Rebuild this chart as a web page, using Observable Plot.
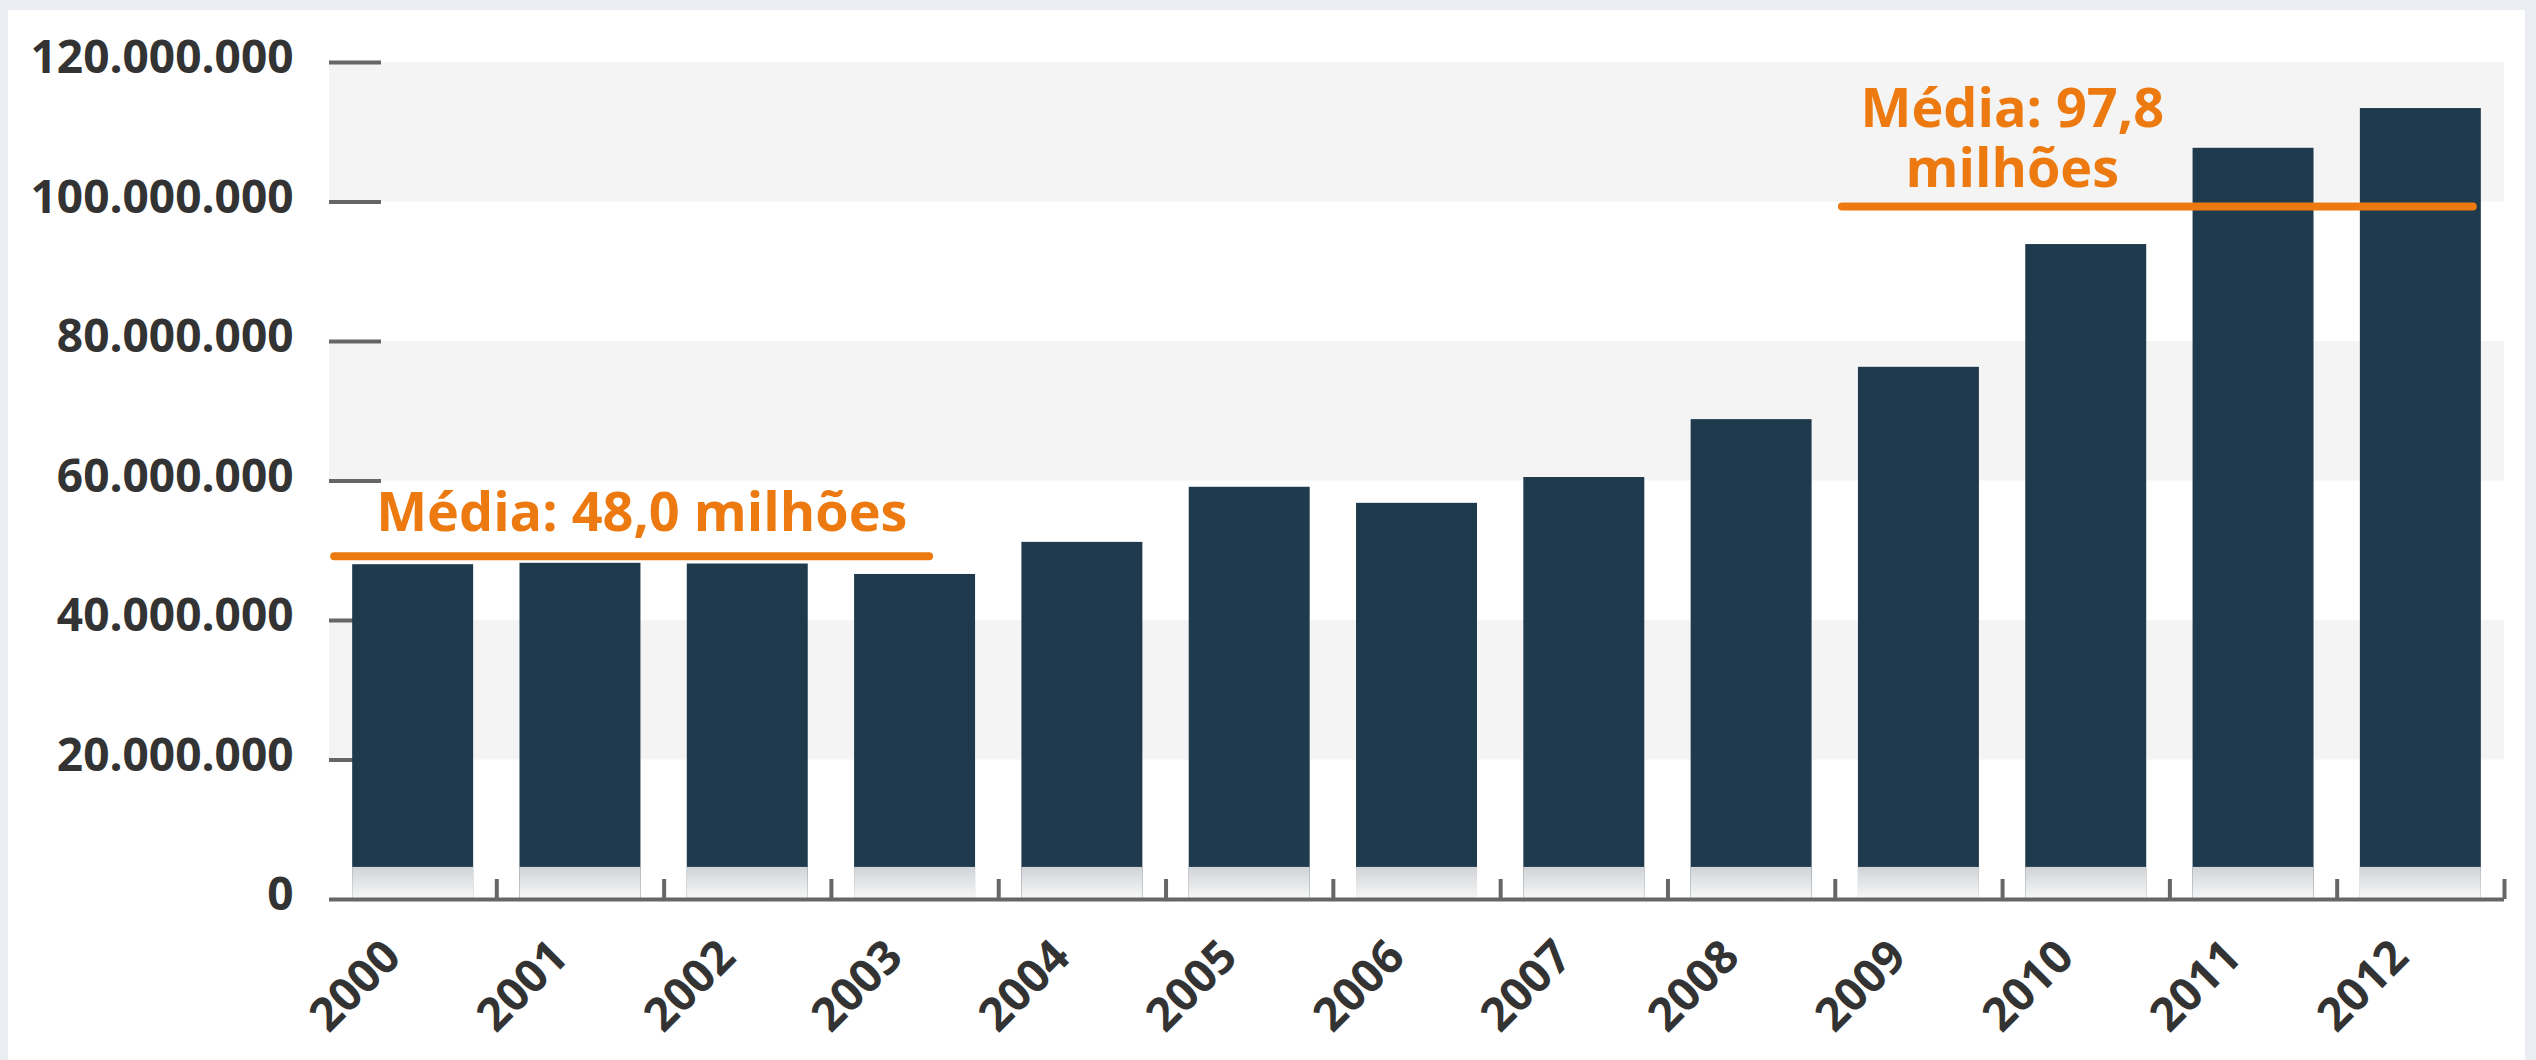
<!DOCTYPE html>
<html>
<head>
<meta charset="utf-8">
<script src="https://cdn.jsdelivr.net/npm/d3@7"></script>
<script src="https://cdn.jsdelivr.net/npm/@observablehq/plot@0.6"></script>
<style>
html, body { margin: 0; padding: 0; width: 2536px; height: 1060px; overflow: hidden; background: #eaeef2; }
#chart { position: absolute; left: 8px; top: 10px; width: 2517px; height: 1050px; background: #ffffff; }
#chart svg { display: block; }
</style>
</head>
<body>
<div id="chart"></div>
<script>
// ---- data ----
const years = ["2000","2001","2002","2003","2004","2005","2006","2007","2008","2009","2010","2011","2012"];
const values = [48.0e6, 48.2e6, 48.1e6, 46.6e6, 51.2e6, 59.1e6, 56.8e6, 60.5e6, 68.8e6, 76.3e6, 93.9e6, 107.7e6, 113.4e6];
const yTicks = [0, 20e6, 40e6, 60e6, 80e6, 100e6, 120e6];
const shadedBands = [[20e6, 40e6], [60e6, 80e6], [100e6, 120e6]];
const avgLabels = ["Média: 48,0 milhões", "Média: 97,8\nmilhões"];
const avgLineLevels = [49.2e6, 99.35e6];
const avgFrom = ["2000", "2009"];
const avgTo = ["2003", "2012"];
const avgLabelAt = ["2000", "2010"];

// ---- build tables ----
const data = years.map((year, i) => ({year, value: values[i]}));
const avgs = avgLabels.map((label, i) => ({label, level: avgLineLevels[i], from: avgFrom[i], to: avgTo[i], at: avgLabelAt[i]}));

const W = 2517, H = 1050;
const mL = 321, mR = 21, mT = 52, mB = 161;
const plotW = W - mL - mR, plotH = H - mT - mB;
const step = plotW / years.length;

const ptBR = d3.formatLocale({decimal: ",", thousands: ".", grouping: [3], currency: ["", ""]});
const fmt = ptBR.format(",d");

const ORANGE = "#ec7a10";
const NAVY = "#203a4d";
const GREY = "#666666";
const TEXT = "#333333";
const FONT = "'Open Sans', sans-serif";

const chart = Plot.plot({
  width: W,
  height: H,
  marginLeft: mL,
  marginRight: mR,
  marginTop: mT,
  marginBottom: mB,
  style: {fontFamily: FONT, background: "#ffffff", overflow: "visible"},
  x: {type: "band", domain: years, paddingInner: 0.277, paddingOuter: 0.1385, round: false, axis: null},
  y: {domain: [0, 120e6], axis: null},
  marks: [
    Plot.rect(shadedBands, {y1: d => d[0], y2: d => d[1], fill: "#f4f4f4"}),
    Plot.ruleY(yTicks.filter(d => d > 0), {y: d => d, stroke: GREY, strokeWidth: 4, insetRight: plotW - 52}),
    Plot.barY(data, {x: "year", y: "value", fill: NAVY}),
    Plot.barY(data, {x: "year", y1: 0, y2: 4.6e6, fill: "url(#barFade)"}),
    Plot.ruleX(years, {x: d => d, dx: step / 2, stroke: GREY, strokeWidth: 4, insetTop: plotH - 20}),
    Plot.ruleY([0], {y: d => d, stroke: GREY, strokeWidth: 4}),
    Plot.axisY({
      ticks: yTicks, tickFormat: fmt, tickSize: 0, tickPadding: 36,
      fontSize: 46, fontWeight: "bold", fill: TEXT, dy: -4,
      line: true, stroke: GREY, strokeWidth: 4
    }),
    Plot.ruleY([avgs[0]], {y: "level", x1: "from", x2: "to", stroke: ORANGE, strokeWidth: 8, strokeLinecap: "round", insetLeft: -18, insetRight: 46}),
    Plot.ruleY([avgs[1]], {y: "level", x1: "from", x2: "to", stroke: ORANGE, strokeWidth: 8, strokeLinecap: "round", insetLeft: -16, insetRight: 8}),
    Plot.text([avgs[0]], {x: "at", y: "level", text: "label", textAnchor: "start", lineAnchor: "bottom", dx: -37, dy: -25, fontSize: 54, fontWeight: "bold", fill: ORANGE}),
    Plot.text([avgs[1]], {x: "at", y: "level", text: "label", textAnchor: "middle", lineAnchor: "bottom", lineHeight: 1.1, dx: -74, dy: -20, fontSize: 54, fontWeight: "bold", fill: ORANGE}),
    Plot.text(data, {x: "year", frameAnchor: "bottom", text: "year", rotate: -45, textAnchor: "end", lineAnchor: "bottom", dx: -10, dy: 60, fontSize: 46, fontWeight: "bold", fill: TEXT})
  ]
});

const svg = chart.tagName.toLowerCase() === "svg" ? chart : chart.querySelector("svg");
const defs = d3.select(svg).insert("defs", ":first-child");
const grad = defs.append("linearGradient").attr("id", "barFade").attr("x1", 0).attr("y1", 0).attr("x2", 0).attr("y2", 1);
grad.append("stop").attr("offset", "0%").attr("stop-color", "#d0d3d6");
grad.append("stop").attr("offset", "100%").attr("stop-color", "#f8f8f8");

document.getElementById("chart").appendChild(chart);
</script>
</body>
</html>
